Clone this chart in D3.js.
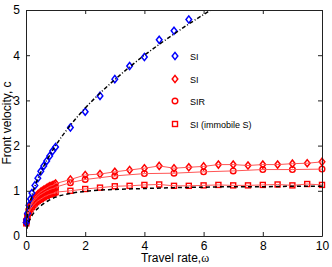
<!DOCTYPE html>
<html>
<head>
<meta charset="utf-8">
<script src="https://cdn.jsdelivr.net/npm/d3@7"></script>
<style>
  body { margin: 0; background: #fff; }
  text { font-family: "Liberation Sans", Arial, sans-serif; }
</style>
</head>
<body>
<svg id="chart"></svg>
<script>
const width = 332;
const height = 267;
const margin = {top: 10, right: 10, bottom: 31, left: 26};

// blue SI points (mobile)
const blueW = [0.01,0.02,0.05,0.1,0.15,0.2,0.3,0.4,0.5,0.6,0.7,0.8,0.9,1.0,1.5,2,2.5,3,3.5,4,4.5,5,5.5];
const blueC = [0.30,0.36,0.50,0.68,0.82,0.95,1.12,1.28,1.43,1.55,1.66,1.77,1.88,1.97,2.40,2.75,3.10,3.47,3.76,3.96,4.34,4.54,4.79];

// red series share travel rates
const redW = [0.01,0.02,0.05,0.1,0.15,0.2,0.25,0.3,0.35,0.4,0.45,0.5,0.55,0.6,0.65,0.7,0.75,0.8,0.85,0.9,0.95,1.0,
  1.5,2,2.5,3,3.5,4,4.5,5,5.5,6,6.5,7,7.5,8,8.5,9,9.5,10];
const siC = [0.30,0.36,0.48,0.60,0.68,0.75,0.80,0.85,0.89,0.92,0.95,0.98,1.00,1.02,1.04,1.06,1.08,1.10,1.11,1.12,1.14,1.16,
  1.25,1.35,1.37,1.42,1.46,1.50,1.55,1.50,1.52,1.54,1.58,1.58,1.56,1.58,1.58,1.60,1.61,1.64];
const sqC = [0.28,0.33,0.43,0.52,0.59,0.64,0.68,0.72,0.75,0.78,0.80,0.82,0.84,0.86,0.88,0.89,0.91,0.92,0.93,0.94,0.95,0.97,
  1.00,1.04,1.07,1.10,1.11,1.13,1.14,1.11,1.11,1.12,1.13,1.12,1.12,1.13,1.14,1.12,1.15,1.13];

const sirW = [0.01,0.02,0.05,0.1,0.15,0.2,0.25,0.3,0.35,0.4,0.45,0.5,0.55,0.6,0.65,0.7,0.75,0.8,0.85,0.9,0.95,1.0,1.5,2,3,4,5,6,7,8,9,10];
const sirC = [0.30,0.35,0.46,0.57,0.65,0.71,0.76,0.80,0.84,0.87,0.90,0.92,0.94,0.96,0.98,1.00,1.01,1.03,1.04,1.05,1.06,1.08,1.18,1.25,1.33,1.38,1.39,1.42,1.44,1.47,1.47,1.48];

// theory curves (black dashed)
const upperW = [0,0.02,0.05,0.1,0.2,0.3,0.5,0.75,1,1.5,2,2.5,3,3.5,4,4.5,5,5.5,6,6.3];
const upperC = [0,0.28,0.45,0.63,0.89,1.10,1.41,1.73,2.0,2.45,2.83,3.16,3.46,3.74,4.0,4.24,4.47,4.69,4.90,5.02];
const lowerW = [0,0.02,0.05,0.1,0.2,0.3,0.5,0.75,1,1.5,2,3,4,5,6,7,8,9,10];
const lowerC = [0,0.12,0.22,0.32,0.45,0.54,0.67,0.78,0.86,0.94,0.99,1.03,1.05,1.07,1.08,1.09,1.09,1.10,1.10];

const xTicks = [0,2,4,6,8,10];
const yTicks = [0,1,2,3,4,5];
const legendLabels = ['SI','SI','SIR','SI (immobile S)'];

const svg = d3.select('#chart')
    .attr('width', width)
    .attr('height', height);

const x = d3.scaleLinear().domain([0,10]).range([margin.left, width-margin.right]);
const y = d3.scaleLinear().domain([0,5]).range([height-margin.bottom, margin.top]);

const zip = (a,b) => a.map((v,i) => [v,b[i]]);

svg.append('clipPath').attr('id','clip')
  .append('rect')
    .attr('x', x(0)).attr('y', y(5))
    .attr('width', x(10)-x(0)).attr('height', y(0)-y(5));

const plot = svg.append('g');
const lines = svg.append('g').attr('clip-path','url(#clip)');
const line = d3.line().x(d => x(d[0])).y(d => y(d[1]));

// red connecting lines
[[redW,siC],[sirW,sirC],[redW,sqC]].forEach(s => {
  lines.append('path')
      .attr('d', line(zip(s[0],s[1])))
      .attr('fill','none')
      .attr('stroke','#ff5555')
      .attr('stroke-width',1);
});

// theory curves
lines.append('path')
    .attr('d', line.curve(d3.curveMonotoneX)(zip(upperW,upperC)))
    .attr('fill','none').attr('stroke','#000')
    .attr('stroke-width',1.5).attr('stroke-dasharray','4,2,1,2');
lines.append('path')
    .attr('d', line.curve(d3.curveMonotoneX)(zip(lowerW,lowerC)))
    .attr('fill','none').attr('stroke','#000')
    .attr('stroke-width',1.5).attr('stroke-dasharray','4,3');

const diamond = (cx,cy) => `M${cx},${cy-3.6}L${cx+2.8},${cy}L${cx},${cy+3.6}L${cx-2.8},${cy}Z`;

const drawDiamonds = (g, data, colour) => g.selectAll(null)
    .data(data).enter()
    .append('path')
      .attr('d', d => diamond(x(d[0]), y(d[1])))
      .attr('fill','none')
      .attr('stroke', colour)
      .attr('stroke-width',1.5);

drawDiamonds(plot, zip(redW,siC), '#ff0000');

plot.selectAll(null)
    .data(zip(sirW,sirC)).enter()
    .append('circle')
      .attr('cx', d => x(d[0])).attr('cy', d => y(d[1]))
      .attr('r', 2.8)
      .attr('fill','none').attr('stroke','#ff0000').attr('stroke-width',1.4);

plot.selectAll(null)
    .data(zip(redW,sqC)).enter()
    .append('rect')
      .attr('x', d => x(d[0])-2.5).attr('y', d => y(d[1])-2.5)
      .attr('width',5).attr('height',5)
      .attr('fill','none').attr('stroke','#ff0000').attr('stroke-width',1.4);

drawDiamonds(plot, zip(blueW,blueC), '#0000ff');

// axes box with inward ticks
const gx = svg.append('g').attr('transform',`translate(0,${y(0)})`)
    .call(d3.axisBottom(x).tickValues(xTicks).tickFormat(d3.format('d')).tickSizeInner(-4).tickSizeOuter(0).tickPadding(5));
const gxTop = svg.append('g').attr('transform',`translate(0,${y(5)})`)
    .call(d3.axisTop(x).tickValues(xTicks).tickSizeInner(-4).tickSizeOuter(0).tickFormat(''));
const gy = svg.append('g').attr('transform',`translate(${x(0)},0)`)
    .call(d3.axisLeft(y).tickValues(yTicks).tickFormat(d3.format('d')).tickSizeInner(-4).tickSizeOuter(0).tickPadding(6));
const gyRight = svg.append('g').attr('transform',`translate(${x(10)},0)`)
    .call(d3.axisRight(y).tickValues(yTicks).tickSizeInner(-4).tickSizeOuter(0).tickFormat(''));

[gx,gxTop,gy,gyRight].forEach(g => {
  g.selectAll('path,line').attr('stroke','#222');
  g.selectAll('text').attr('font-size',12).attr('fill','#000')
    .attr('font-family','"Liberation Sans", Arial, sans-serif');
});

// axis titles
const xt = svg.append('text')
    .attr('x', 175).attr('y', 262)
    .attr('text-anchor','middle')
    .attr('font-size',12);
xt.append('tspan').text('Travel rate,');
xt.append('tspan').attr('font-family','"Liberation Serif", serif').text('\u03c9');

svg.append('text')
    .attr('transform',`translate(11,${(y(0)+y(5))/2}) rotate(-90)`)
    .attr('text-anchor','middle')
    .attr('font-size',12)
    .text('Front velocity, c');

// legend
const legendY = [56,79,101,124];
const lg = svg.append('g');
legendLabels.forEach((lab,i) => {
  const ly = legendY[i], lx = 175;
  if (i < 2) {
    lg.append('path').attr('d', diamond(lx,ly)).attr('fill','none')
      .attr('stroke', i === 0 ? '#0000ff' : '#ff0000').attr('stroke-width',1.5);
  } else if (i === 2) {
    lg.append('circle').attr('cx',lx).attr('cy',ly).attr('r',2.8)
      .attr('fill','none').attr('stroke','#ff0000').attr('stroke-width',1.4);
  } else {
    lg.append('rect').attr('x',lx-2.5).attr('y',ly-2.5).attr('width',5).attr('height',5)
      .attr('fill','none').attr('stroke','#ff0000').attr('stroke-width',1.4);
  }
  lg.append('text').attr('x',190).attr('y',ly+3.5)
    .attr('font-size',9).text(lab);
});
</script>
</body>
</html>
